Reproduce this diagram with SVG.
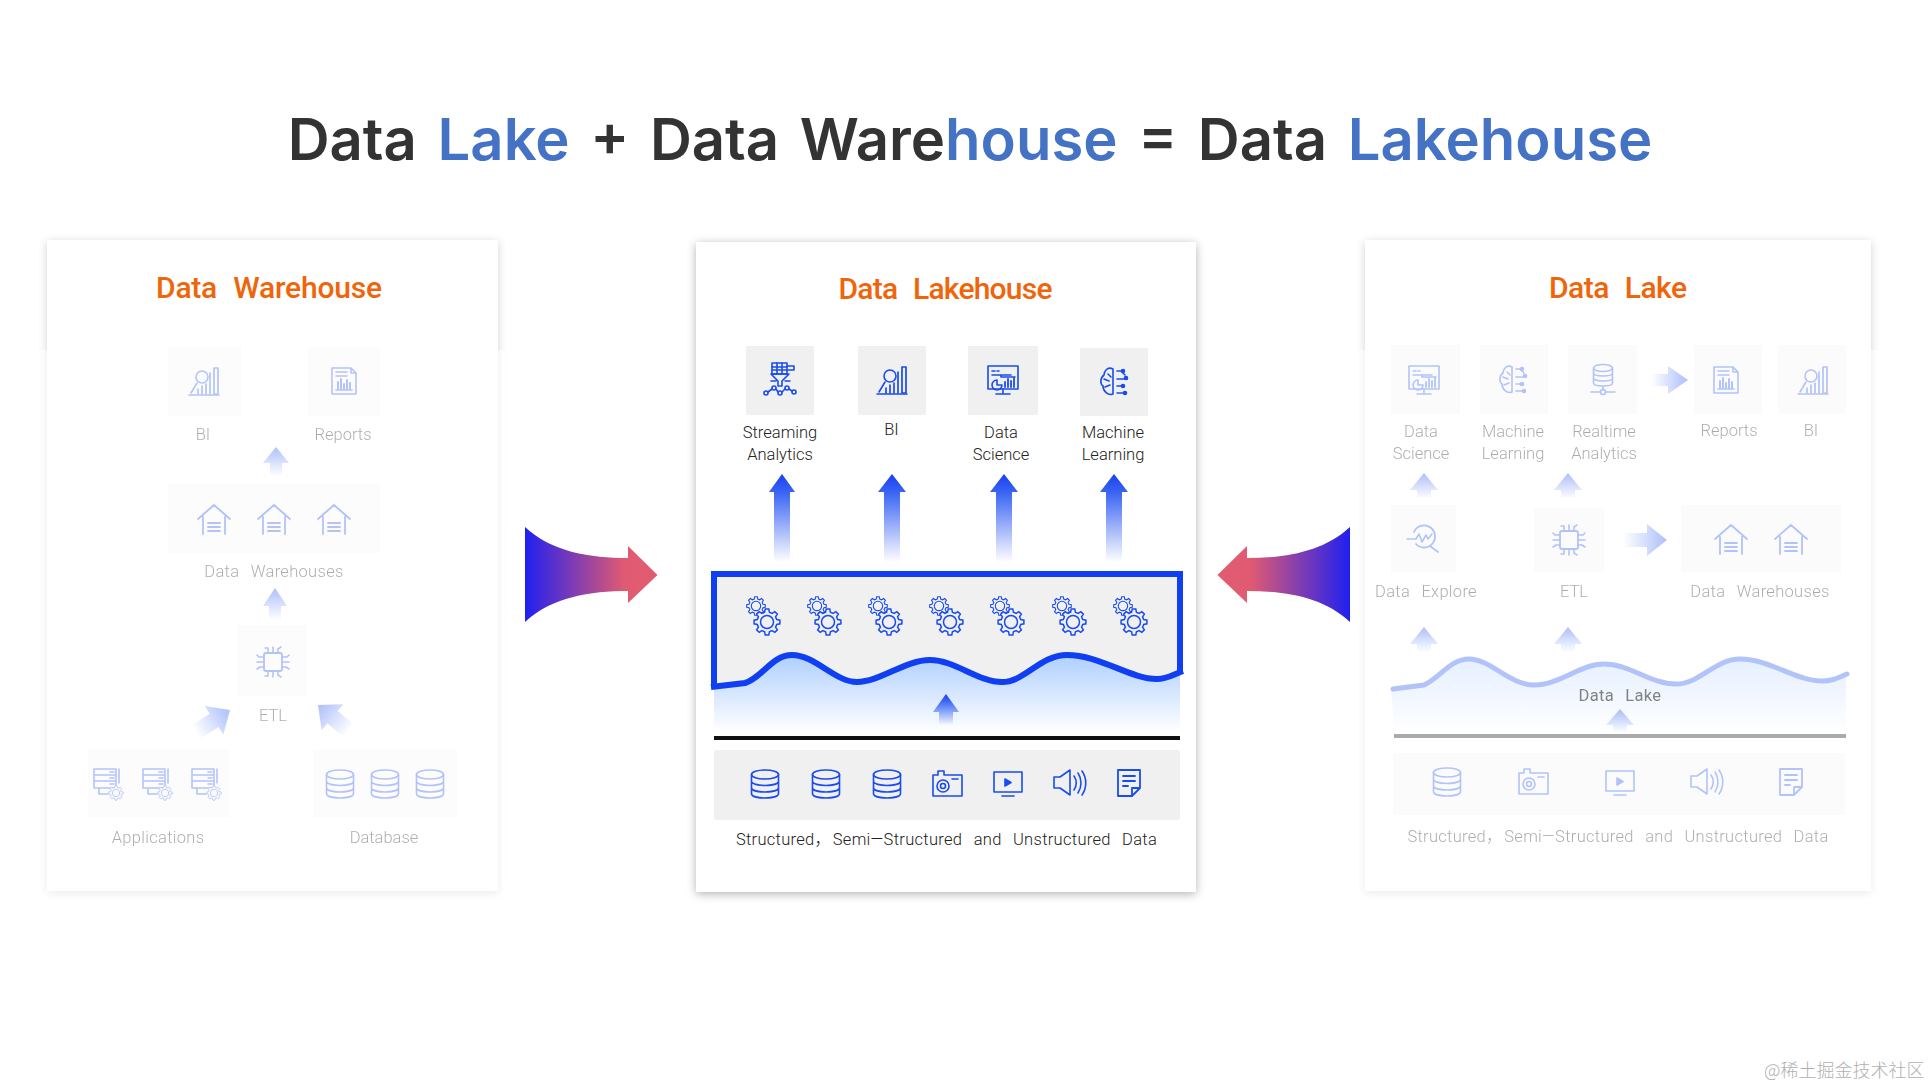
<svg xmlns="http://www.w3.org/2000/svg" xmlns:xlink="http://www.w3.org/1999/xlink" width="1930" height="1086" viewBox="0 0 1930 1086">
<style>
text{font-family:Roboto,"Noto Sans CJK SC",sans-serif}
.ttl{font-size:30px;font-weight:500;fill:#f0640a;text-anchor:middle;word-spacing:9px}
.lb{font-size:16.5px;font-weight:300;fill:#222;text-anchor:middle}
.faded .lb{fill:#000}
.wl{word-spacing:7px;letter-spacing:.3px}
.tile{fill:#f0f0f0}
.faded .tile{fill:#f5f5f5}
.ic{fill:none;stroke:#1a4bee;stroke-width:1.6;stroke-linejoin:round;stroke-linecap:round}
.ict{fill:#f0f0f0;stroke:#1a4bee;stroke-width:1.5}
.faded{opacity:.33}
.veil{fill:#fff;opacity:.55}
</style>
<defs>
<filter id="sh" x="-10%" y="-10%" width="120%" height="120%"><feDropShadow dx="0" dy="2" stdDeviation="5" flood-color="#000" flood-opacity=".3"/></filter>
<linearGradient id="up" x1="0" y1="0" x2="0" y2="1"><stop offset="0" stop-color="#1a3ff0"/><stop offset=".2" stop-color="#2f5cf2" stop-opacity=".95"/><stop offset=".6" stop-color="#2f5cf2" stop-opacity=".45"/><stop offset=".97" stop-color="#2f5cf2" stop-opacity="0"/></linearGradient>
<linearGradient id="big" x1="0" y1="0" x2="1" y2="0"><stop offset="0" stop-color="#2020f0"/><stop offset=".75" stop-color="#e05a72"/><stop offset="1" stop-color="#e25c70"/></linearGradient>
<linearGradient id="lake" gradientUnits="userSpaceOnUse" x1="0" y1="655" x2="0" y2="732"><stop offset="0" stop-color="#aecfff"/><stop offset="1" stop-color="#fff"/></linearGradient>
<path id="bigarrow" d="M525 527C552 552 590 558 628 558V546L657.500 575 628 603V591C590 591 552 597 525 622Z" fill="url(#big)"/>
<g id="gear"><path class="ict" d="M9.700-2.400L12.900-1.800 12.900 1.800 9.700 2.400 8.570 5.150 10.380 7.820 7.820 10.380 5.150 8.570 2.400 9.700 1.800 12.900-1.800 12.900-2.400 9.700-5.150 8.570-7.820 10.380-10.380 7.820-8.570 5.150-9.700 2.400-12.900 1.800-12.900-1.800-9.700-2.400-8.570-5.150-10.380-7.820-7.820-10.380-5.150-8.570-2.400-9.700-1.800-12.900 1.800-12.900 2.400-9.700 5.150-8.570 7.820-10.380 10.380-7.820 8.570-5.150Z"/><circle class="ict" r="6.500"/></g>
<g id="gears"><use href="#gear" x="-11" y="-16" transform="translate(-3.100 -4.500) scale(.72)" /><use href="#gear" x="0" y="0"/></g>
<g id="db" class="ic"><ellipse cy="-9.500" rx="13.500" ry="4.500"/><path d="M-13.500-9.500V9.500C-13.500 15.500 13.500 15.500 13.500 9.500V-9.500M-13.500-3C-13.500 3 13.500 3 13.500-3M-13.500 3.500C-13.500 9.500 13.500 9.500 13.500 3.500"/></g>
<g id="cam" class="ic"><path d="M-14-9H-9V-13H-3V-9H15V12H-14ZM5-5H11"/><circle cx="-4" cy="2" r="6"/><circle cx="-4" cy="2" r="2.500"/></g>
<g id="screen" class="ic"><path d="M-14-11H14V9H-14ZM-6 13H6"/><path d="M-3-4L3-.5-3 3Z" fill="#1a4bee"/></g>
<g id="speaker" class="ic"><path d="M-15-6H-9L1-13V12L-9 5H-15ZM5-7C8-3 8 3 5 7M9-10C13-4 13 4 9 10M13-12C18-5 18 5 13 12"/></g>
<g id="doc" class="ic"><path d="M-11-13H11V5L3 13H-11ZM11 5H3V13M-6-7H6M-6-2H6M-6 3H-1" stroke-width="1.800"/></g>
<g id="bi" class="ic"><path d="M-15 14H15M-13 12L-7 2"/><circle cx="-2" cy="-4" r="6"/><path d="M6-8V13M10-13V13H14V-13ZM-6 13V8M-2 13V5M2 13V3" stroke-width="1.700"/></g>
<g id="report" class="ic"><path d="M-12-13H7L12-8V13H-12ZM7-13V-8H12M-8-9H3M-8-5H3"/><path d="M-6 8V1M-3 8V-2M0 8V3M3 8V-1M6 8V2" stroke-width="2"/><path d="M-8 9H8"/></g>
<g id="house" class="ic"><path d="M-16-1L0-15 16-1M-11-3V14M11-3V14M-6 3H6M-6 7H6M-6 11H6" stroke-width="1.800"/></g>
<g id="chip" class="ic"><rect x="-9" y="-9" width="18" height="18" rx="2" stroke-width="1.800"/><path d="M-5-9V-14H-8M0-9V-15M5-9V-13L8-15M-5 9V14H-8M0 9V15M5 9V13L8 15M-9-5H-14L-16-7M-9 0H-16M-9 5H-13L-16 7M9-5H14L16-7M9 0H16M9 5H13L16 7"/></g>
<g id="streaming" class="ic" stroke-width="1.400"><rect x="-8" y="-17" width="15" height="11"/><path d="M-8-13H7M-8-10H7M-3-17V-6M2-17V-6M7-14H14V-10H7M-9-6H9L2 1V6L-2 6V1ZM-9 1H-4M5 1H10"/><circle cx="-14" cy="13" r="2"/><circle cx="-6" cy="8" r="2"/><circle cx="0" cy="13" r="2"/><circle cx="7" cy="8" r="2"/><circle cx="14" cy="12" r="2"/><path d="M-12 12L-8 9M-4 9L-2 12M2 12L5 9M9 9L12 11"/></g>
<g id="ds" class="ic"><rect x="-15" y="-15" width="30" height="23"/><path d="M0 8V12M-7 13H7M-11-10H-8M-6-10H-4M-11-6H8M-2-6V-4H12"/><path d="M-6-1A5 5 0 1 0 -1 4H-6Z"/><path d="M2 6V1M5 6V-2M8 6V0M11 6V-3" stroke-width="1.800"/></g>
<g id="ml" class="ic"><path d="M-1-13C-7-16-10-10-10-7C-14-4-14 2-11 4C-11 9-6 14-1 12ZM-1-13V12M-10-3L-5-1M-6-8L-3-5M-9 5L-4 3"/><path d="M3-11H7M3-3H13M3 4H9M3 11H10M7-11L11-7"/><circle cx="9" cy="-11" r="1.500" fill="#1a4bee"/><circle cx="12" cy="-4" r="1.500" fill="#1a4bee"/><circle cx="9" cy="4" r="1.500" fill="#1a4bee"/><circle cx="11" cy="11" r="1.500" fill="#1a4bee"/></g>
<g id="explore" class="ic"><path d="M-9-6A11 11 0 1 1 -7 6M7 8L15 14" stroke-width="1.800"/><path d="M-16 1H-7L-4-4-1 4 3-3 5 1 9-4"/></g>
<g id="server" class="ic"><path d="M-13-14H9V5H-13ZM-13-8H9M-13-2H9M3-11H7M3-5H7M3 1H7M12-14V0M-8 5V11H1"/><use href="#gear" transform="translate(9 10) scale(.56)" stroke-width="2"/></g>
<g id="dbnet" class="ic"><ellipse cy="-12" rx="9.500" ry="3.500"/><path d="M-9.500-12V3C-9.500 7 9.500 7 9.500 3V-12M-9.500-7C-9.500-3 9.500-3 9.500-7M-9.500-2C-9.500 2 9.500 2 9.500-2M0 6V10M-12 12H-3M3 12H12"/><circle cy="12" r="2.500"/></g>
</defs>
<rect width="1930" height="1086" fill="#fff"/>

<g id="title"><text x="970" y="160" font-size="58" font-weight="600" text-anchor="middle" style="font-family:Inter,'Noto Sans',sans-serif;word-spacing:6px" fill="#333">Data <tspan fill="#4472c4">Lake</tspan> + Data Ware<tspan fill="#4472c4">house</tspan> = Data <tspan fill="#4472c4">Lakehouse</tspan></text></g>

<g id="panel-warehouse">
<rect x="47" y="240" width="451" height="651" fill="#fff" filter="url(#sh)" opacity=".6"/>
<rect class="veil" x="30" y="350" width="485" height="560"/>
<text class="ttl" x="269" y="298" textLength="226">Data Warehouse</text>
<g class="faded">
<g id="w-bi"><rect class="tile" x="168" y="347" width="73" height="69"/><use href="#bi" x="204" y="381"/><text class="lb" x="203" y="440">BI</text></g>
<g id="w-reports"><rect class="tile" x="308" y="347" width="72" height="69"/><use href="#report" x="344" y="381"/><text class="lb" x="343" y="440">Reports</text></g>
<g id="w-dw"><rect class="tile" x="168" y="484" width="212" height="69"/><use href="#house" x="214" y="520"/><use href="#house" x="274" y="520"/><use href="#house" x="334" y="520"/><text class="lb wl" x="274" y="577">Data Warehouses</text></g>
<g id="w-etl"><rect class="tile" x="237" y="625" width="70" height="71"/><use href="#chip" x="273" y="662"/><text class="lb" x="273" y="721">ETL</text></g>
<g id="w-apps"><rect class="tile" x="88" y="749" width="142" height="68"/><use href="#server" x="107" y="783"/><use href="#server" x="156" y="783"/><use href="#server" x="205" y="783"/><text class="lb wl" x="158" y="843">Applications</text></g>
<g id="w-db"><rect class="tile" x="313" y="749" width="144" height="68"/><use href="#db" x="340" y="784"/><use href="#db" x="385" y="784"/><use href="#db" x="430" y="784"/><text class="lb" x="384" y="843">Database</text></g>
</g>
<g class="faded" id="w-connectors">
<path fill="url(#up)" d="M276 447L289 463H282V477H270V463H263Z"/>
<path fill="url(#up)" d="M275 588L287 606H281V621H269V606H263Z"/>
<path fill="url(#up)" transform="translate(230 710) rotate(57)" d="M0 0L17 19H8V42H-8V19H-17Z"/>
<path fill="url(#up)" transform="translate(318 705) rotate(-50)" d="M0 0L17 19H8V42H-8V19H-17Z"/>
</g>
</g>

<g id="panel-lakehouse">
<rect x="696" y="242" width="500" height="650" fill="#fff" filter="url(#sh)"/>
<text class="ttl" x="945.500" y="299" textLength="214">Data Lakehouse</text>
<g id="l-stream"><rect class="tile" x="746" y="346" width="68" height="69"/><use href="#streaming" x="780" y="380"/><text class="lb" x="780" y="438">Streaming</text><text class="lb" x="780" y="460">Analytics</text></g>
<g id="l-bi"><rect class="tile" x="858" y="346" width="68" height="69"/><use href="#bi" x="892" y="380"/><text class="lb" x="891.500" y="435">BI</text></g>
<g id="l-ds"><rect class="tile" x="968" y="346" width="70" height="69"/><use href="#ds" x="1003" y="381"/><text class="lb" x="1001" y="438">Data</text><text class="lb" x="1001" y="460">Science</text></g>
<g id="l-ml"><rect class="tile" x="1080" y="348" width="68" height="68"/><use href="#ml" x="1114" y="382"/><text class="lb" x="1113" y="438">Machine</text><text class="lb" x="1113" y="460">Learning</text></g>
<g id="l-lake">
<rect class="tile" x="714" y="574" width="466" height="120"/>
<path fill="url(#lake)" d="M714 687L745 683C762 678 772 655 792 655C815 655 835 682 857 682C880 682 905 660 930 660C955 660 978 682 1002 682C1025 682 1040 655 1067 655C1100 655 1130 679 1157 679C1167 679 1172 675 1180 672V735H714Z"/>
<path fill="none" stroke="#0f3ff0" stroke-width="6" d="M711 687L745 683C762 678 772 655 792 655C815 655 835 682 857 682C880 682 905 660 930 660C955 660 978 682 1002 682C1025 682 1040 655 1067 655C1100 655 1130 679 1157 679C1167 679 1172 675 1183 671"/>
<path fill="none" stroke="#0f3ff0" stroke-width="6" d="M714 688V574H1180V672"/>
<use href="#gears" x="767" y="622"/><use href="#gears" x="828" y="622"/><use href="#gears" x="889" y="622"/><use href="#gears" x="950" y="622"/><use href="#gears" x="1011" y="622"/><use href="#gears" x="1073" y="622"/><use href="#gears" x="1134" y="622"/>
<rect x="714" y="736" width="466" height="4" fill="#111"/>
</g>
<g id="l-sources"><rect class="tile" x="714" y="750" width="466" height="70" rx="3"/><use href="#db" x="765" y="784"/><use href="#db" x="826" y="784"/><use href="#db" x="887" y="784"/><use href="#cam" x="947" y="784"/><use href="#screen" x="1008" y="783"/><use href="#speaker" x="1069" y="783"/><use href="#doc" x="1129" y="783"/><text class="lb wl" x="946.500" y="845">Structured， <tspan dx="-10">Semi—Structured</tspan> and Unstructured Data</text></g>
<g id="l-connectors">
<path fill="url(#up)" d="M782 474L795 492H790V565H774V492H769Z"/>
<path fill="url(#up)" d="M892 474L906 492H900V565H884V492H878Z"/>
<path fill="url(#up)" d="M1004 474L1018 492H1012V565H996V492H990Z"/>
<path fill="url(#up)" d="M1114 474L1128 492H1122V565H1106V492H1100Z"/>
<path fill="url(#up)" d="M946 694L959 712H953V726H939V712H933Z"/>
</g>
</g>

<g id="panel-lake">
<rect x="1365" y="240" width="506" height="651" fill="#fff" filter="url(#sh)" opacity=".6"/>
<rect class="veil" x="1345" y="350" width="545" height="560"/>
<text class="ttl" x="1618" y="298" textLength="138">Data Lake</text>
<g class="faded">
<g id="r-ds"><rect class="tile" x="1391" y="345" width="69" height="69"/><use href="#ds" x="1424" y="381"/><text class="lb" x="1421" y="437">Data</text><text class="lb" x="1421" y="459">Science</text></g>
<g id="r-ml"><rect class="tile" x="1480" y="345" width="68" height="69"/><use href="#ml" x="1513" y="380"/><text class="lb" x="1513" y="437">Machine</text><text class="lb" x="1513" y="459">Learning</text></g>
<g id="r-ra"><rect class="tile" x="1568" y="345" width="69" height="69"/><use href="#dbnet" x="1603" y="380"/><text class="lb" x="1604" y="437">Realtime</text><text class="lb" x="1604" y="459">Analytics</text></g>
<g id="r-reports"><rect class="tile" x="1694" y="345" width="68" height="69"/><use href="#report" x="1726" y="380"/><text class="lb" x="1729" y="436">Reports</text></g>
<g id="r-bi"><rect class="tile" x="1778" y="345" width="68" height="69"/><use href="#bi" x="1813" y="380"/><text class="lb" x="1811" y="436">BI</text></g>
<g id="r-explore"><rect class="tile" x="1391" y="505" width="65" height="67"/><use href="#explore" x="1423" y="538"/><text class="lb wl" x="1426" y="597">Data Explore</text></g>
<g id="r-etl"><rect class="tile" x="1534" y="508" width="70" height="64"/><use href="#chip" x="1569" y="540"/><text class="lb" x="1574" y="597">ETL</text></g>
<g id="r-dw"><rect class="tile" x="1681" y="505" width="160" height="67"/><use href="#house" x="1731" y="540"/><use href="#house" x="1791" y="540"/><text class="lb wl" x="1760" y="597">Data Warehouses</text></g>
<g id="r-lake">
<path fill="url(#lake)" d="M1391 689L1424 685C1440 678 1450 659 1469 659C1490 659 1510 685 1534 685C1560 685 1580 664 1604 664C1630 664 1650 684 1676 684C1700 684 1715 659 1740 659C1770 659 1795 681 1822 681C1832 681 1838 678 1846 674V734H1394Z"/>
<path fill="none" stroke="#1a4bee" stroke-width="5" stroke-linecap="round" d="M1393 689L1424 685C1440 678 1450 659 1469 659C1490 659 1510 685 1534 685C1560 685 1580 664 1604 664C1630 664 1650 684 1676 684C1700 684 1715 659 1740 659C1770 659 1795 681 1822 681C1832 681 1838 678 1847 674"/>
<rect x="1394" y="734" width="452" height="4" fill="#000"/>
</g>
<g id="r-sources"><rect class="tile" x="1393" y="753" width="452" height="62"/><use href="#db" x="1447" y="782"/><use href="#cam" x="1533" y="782"/><use href="#screen" x="1620" y="782"/><use href="#speaker" x="1706" y="782"/><use href="#doc" x="1791" y="782"/><text class="lb wl" x="1618" y="842">Structured， <tspan dx="-10">Semi—Structured</tspan> and Unstructured Data</text></g>
</g>
<text class="lb wl" x="1620" y="701" opacity=".55" style="font-weight:400">Data Lake</text>
<g class="faded" id="r-connectors">
<path fill="url(#up)" d="M1424 473L1438 490H1431V500H1417V490H1410Z"/>
<path fill="url(#up)" d="M1568 473L1582 490H1575V500H1561V490H1554Z"/>
<path fill="url(#up)" d="M1424 627L1438 644H1431V653H1417V644H1410Z"/>
<path fill="url(#up)" d="M1568 627L1582 644H1575V653H1561V644H1554Z"/>
<path fill="url(#up)" d="M1620 709L1634 725H1627V733H1613V725H1606Z"/>
<path fill="url(#up)" transform="translate(1688 380) rotate(90)" d="M0 0L14 20H6V38H-6V20H-14Z"/>
<path fill="url(#up)" transform="translate(1667 540) rotate(90)" d="M0 0L16 20H7V45H-7V20H-16Z"/>
</g>
</g>

<g id="connectors">
<use id="arrow-left" href="#bigarrow"/>
<use id="arrow-right" href="#bigarrow" transform="translate(1875 0) scale(-1 1)"/>
</g>
<text id="watermark" x="1764" y="1077" font-size="18" fill="#b0b0b0" font-weight="300" style="font-family:'Noto Sans CJK SC',sans-serif">@稀土掘金技术社区</text>
</svg>
